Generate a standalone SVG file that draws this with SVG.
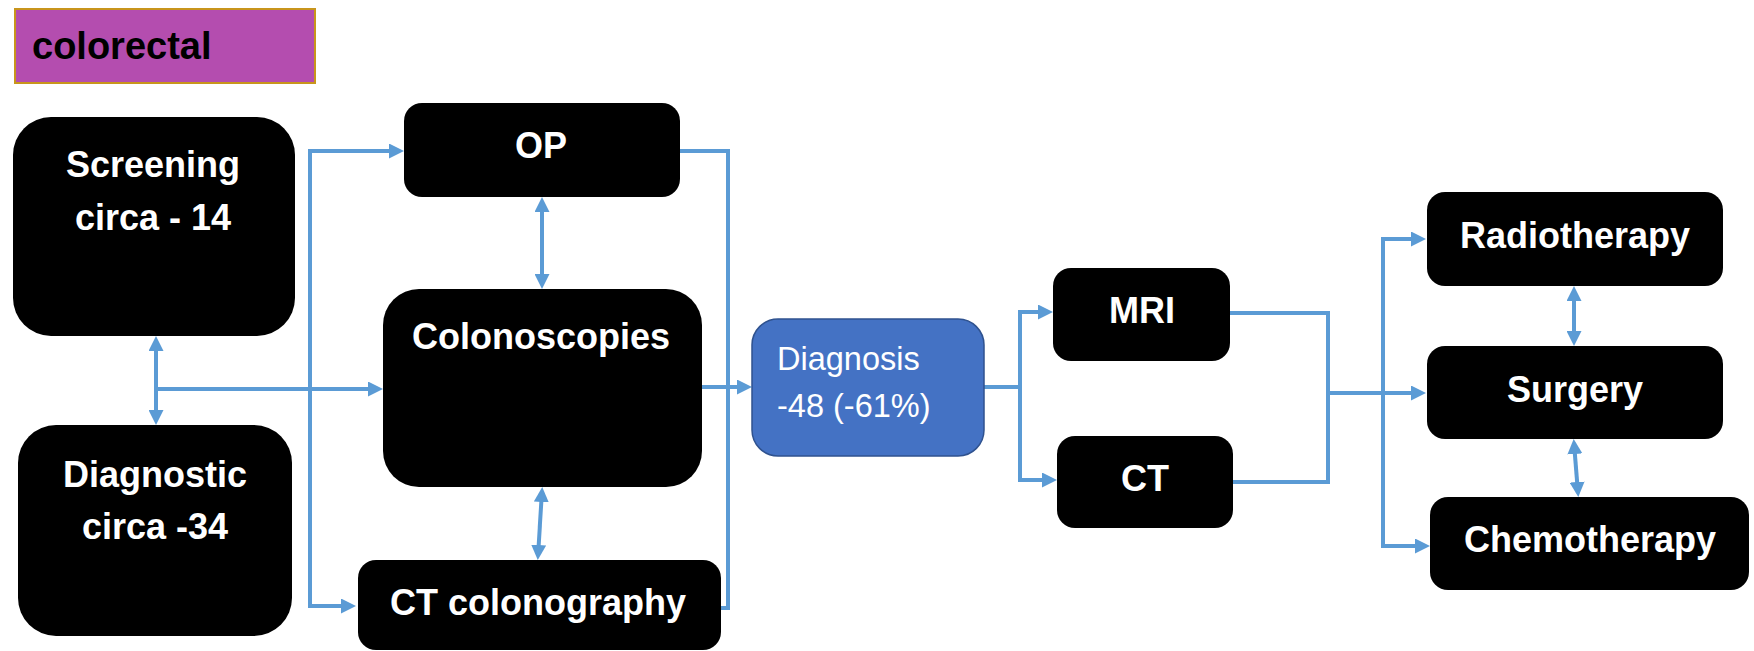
<svg xmlns="http://www.w3.org/2000/svg" width="1754" height="651" viewBox="0 0 1754 651">
<style>
.box{fill:#000;}
.t{font-family:"Liberation Sans",Arial,sans-serif;font-weight:bold;font-size:36px;fill:#fff;text-anchor:middle;}
.d{font-family:"Liberation Sans",Arial,sans-serif;font-size:32.5px;fill:#fff;}
.c{fill:none;stroke:#5b9bd5;stroke-width:4;}
</style>
<defs>
<marker id="ah" viewBox="0 0 15 15" refX="11" refY="7.5" markerWidth="15" markerHeight="15" markerUnits="userSpaceOnUse" orient="auto-start-reverse">
<path d="M0,0 L15,7.5 L0,15 z" fill="#5b9bd5"/>
</marker>
</defs>
<rect width="1754" height="651" fill="#fff"/>
<g id="title">
<rect x="15" y="9" width="300" height="74" fill="#b44daf" stroke="#c8951c" stroke-width="2"/>
<text x="32" y="59" font-family="Liberation Sans,Arial,sans-serif" font-weight="bold" font-size="38" fill="#000">colorectal</text>
</g>
<g id="connectors">
<path class="c" d="M156,340 V421" marker-start="url(#ah)" marker-end="url(#ah)"/>
<path class="c" d="M156,389 H379" marker-end="url(#ah)"/>
<path class="c" d="M400,151 H310 V606 H352" marker-start="url(#ah)" marker-end="url(#ah)"/>
<path class="c" d="M542,201 V285" marker-start="url(#ah)" marker-end="url(#ah)"/>
<path class="c" d="M680,151 H728 V608 H721"/>
<path class="c" d="M702,387 H748" marker-end="url(#ah)"/>
<path class="c" d="M542,491 L538,556" marker-start="url(#ah)" marker-end="url(#ah)"/>
<path class="c" d="M984,387 H1020"/>
<path class="c" d="M1049,312 H1020 V480 H1053" marker-start="url(#ah)" marker-end="url(#ah)"/>
<path class="c" d="M1230,313 H1328 V482 H1233"/>
<path class="c" d="M1328,393 H1422" marker-end="url(#ah)"/>
<path class="c" d="M1422,239 H1383 V546 H1426" marker-start="url(#ah)" marker-end="url(#ah)"/>
<path class="c" d="M1574,290 V342" marker-start="url(#ah)" marker-end="url(#ah)"/>
<path class="c" d="M1574,443 L1578,493" marker-start="url(#ah)" marker-end="url(#ah)"/>
</g>
<g id="screening">
<rect class="box" x="13" y="117" width="282" height="219" rx="38"/>
<text class="t" x="153" y="177">Screening</text>
<text class="t" x="153" y="230">circa - 14</text>
</g>
<g id="diagnostic">
<rect class="box" x="18" y="425" width="274" height="211" rx="38"/>
<text class="t" x="155" y="487">Diagnostic</text>
<text class="t" x="155" y="539">circa -34</text>
</g>
<g id="op">
<rect class="box" x="404" y="103" width="276" height="94" rx="18"/>
<text class="t" x="541" y="158">OP</text>
</g>
<g id="colonoscopies">
<rect class="box" x="383" y="289" width="319" height="198" rx="36"/>
<text class="t" x="541" y="349">Colonoscopies</text>
</g>
<g id="ctcolonography">
<rect class="box" x="358" y="560" width="363" height="90" rx="18"/>
<text class="t" x="538" y="615">CT colonography</text>
</g>
<g id="diagnosis">
<rect x="752" y="319" width="232" height="137" rx="26" fill="#4472c4" stroke="#2f528f" stroke-width="1.5"/>
<text class="d" x="777" y="370">Diagnosis</text>
<text class="d" x="777" y="417">-48 (-61%)</text>
</g>
<g id="mri">
<rect class="box" x="1053" y="268" width="177" height="93" rx="18"/>
<text class="t" x="1142" y="323">MRI</text>
</g>
<g id="ct">
<rect class="box" x="1057" y="436" width="176" height="92" rx="18"/>
<text class="t" x="1145" y="491">CT</text>
</g>
<g id="radiotherapy">
<rect class="box" x="1427" y="192" width="296" height="94" rx="18"/>
<text class="t" x="1575" y="248">Radiotherapy</text>
</g>
<g id="surgery">
<rect class="box" x="1427" y="346" width="296" height="93" rx="18"/>
<text class="t" x="1575" y="402">Surgery</text>
</g>
<g id="chemotherapy">
<rect class="box" x="1430" y="497" width="319" height="93" rx="18"/>
<text class="t" x="1590" y="552">Chemotherapy</text>
</g>
</svg>
